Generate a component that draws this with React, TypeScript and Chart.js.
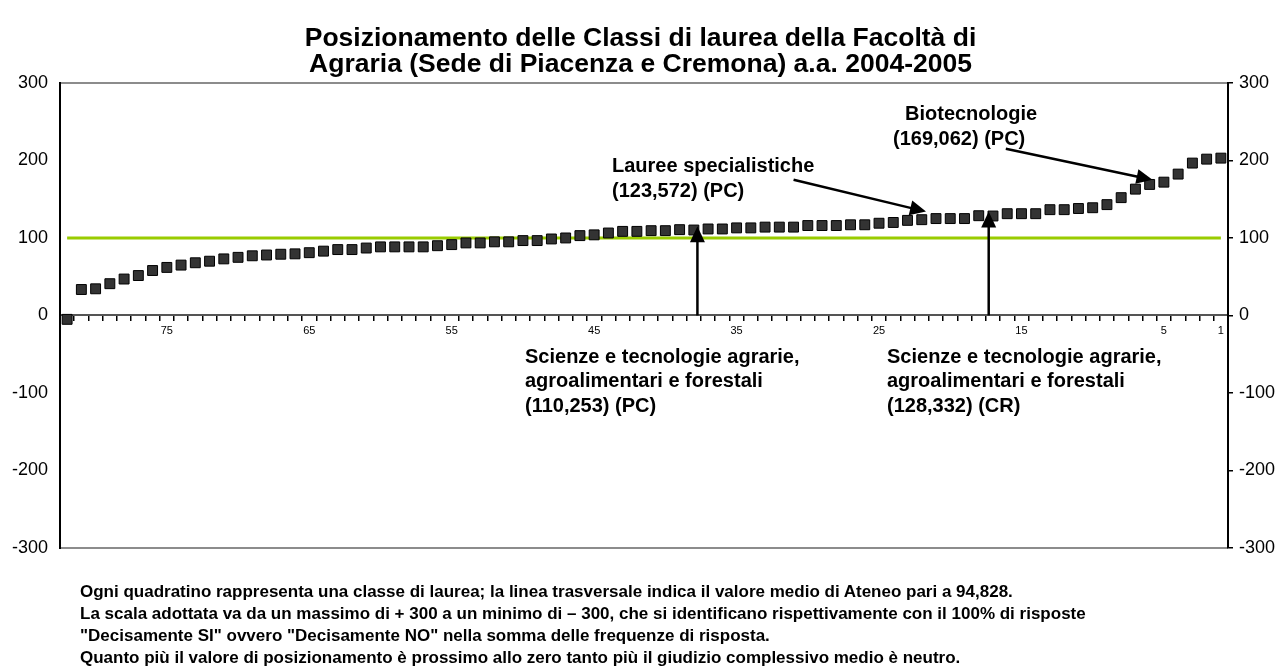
import React, { useEffect, useRef } from 'react';
import { Chart, registerables } from 'chart.js';

Chart.register(...registerables);

const FONT = "'Liberation Sans', Arial, sans-serif";

const titleLines = [
  'Posizionamento delle Classi di laurea della Facoltà di',
  'Agraria (Sede di Piacenza e Cremona) a.a. 2004-2005',
];

// Category ranks, from the last class (82) to the first (1)
const rankLabels = [
  '82', '81', '80', '79', '78', '77', '76', '75', '74', '73',
  '72', '71', '70', '69', '68', '67', '66', '65', '64', '63',
  '62', '61', '60', '59', '58', '57', '56', '55', '54', '53',
  '52', '51', '50', '49', '48', '47', '46', '45', '44', '43',
  '42', '41', '40', '39', '38', '37', '36', '35', '34', '33',
  '32', '31', '30', '29', '28', '27', '26', '25', '24', '23',
  '22', '21', '20', '19', '18', '17', '16', '15', '14', '13',
  '12', '11', '10', '9', '8', '7', '6', '5', '4', '3',
  '2', '1',
];

const shownRankLabels = ['75', '65', '55', '45', '35', '25', '15', '5', '1'];

// Positioning value of each degree class (one square each)
const positionValues = [
  -5, 33.5, 34.4, 41, 47, 51.5, 58, 62, 65, 68,
  70, 73, 75, 77, 78, 79, 79.5, 81, 83, 85,
  85, 87, 88.5, 88.5, 88.5, 88.5, 90, 91.4, 93.6, 93.6,
  95, 95, 96.6, 96.6, 98.7, 100, 103, 104, 106.4, 108.5,
  108.5, 109.4, 109.4, 110.7, 110.253, 111.6, 111.6, 113, 113, 114,
  114, 114, 116, 116, 116, 117, 117, 119, 120, 122.7,
  123.572, 125, 125, 125, 128.7, 128.332, 131.3, 131.3, 131.3, 136.5,
  136.5, 138, 139, 143, 152, 163, 169.062, 172, 182.4, 196.6,
  201.7, 203,
];

// Transverse reference line (as drawn)
const referenceLineValue = 100;
const referenceLineEnds = ['82', '1'];

const yMin = -300;
const yMax = 300;
const yStep = 100;

const footnoteLines = [
  'Ogni quadratino rappresenta una classe di laurea; la linea trasversale indica il valore medio di Ateneo pari a 94,828.',
  'La scala adottata va da un massimo di + 300 a un minimo di \u2013 300, che si identificano rispettivamente con il 100% di risposte',
  '"Decisamente SI" ovvero "Decisamente NO" nella somma delle frequenze di risposta.',
  'Quanto più il valore di posizionamento è prossimo allo zero tanto più il giudizio complessivo medio è neutro.',
];

// Annotation labels (canvas pixel positions, left aligned, vertically centred)
const annotationLabels = [
  { text: 'Biotecnologie', x: 905, y: 114 },
  { text: '(169,062) (PC)', x: 893, y: 139 },
  { text: 'Lauree specialistiche', x: 612, y: 166 },
  { text: '(123,572) (PC)', x: 612, y: 191 },
  { text: 'Scienze e tecnologie agrarie,', x: 525, y: 357 },
  { text: 'agroalimentari e forestali', x: 525, y: 381 },
  { text: '(110,253) (PC)', x: 525, y: 406 },
  { text: 'Scienze e tecnologie agrarie,', x: 887, y: 357 },
  { text: 'agroalimentari e forestali', x: 887, y: 381 },
  { text: '(128,332) (CR)', x: 887, y: 406 },
];

// Arrows in data coordinates: [category index, value]
const annotationArrows = [
  { from: [44.25, 0], to: [44.25, 115] },
  { from: [64.7, 0], to: [64.7, 134] },
  { from: [51.0, 175], to: [60.3, 134] },
  { from: [65.9, 215], to: [76.2, 175] },
];

const annotationPlugin = {
  id: 'annotationPlugin',
  afterDatasetsDraw(chart: any) {
    const { ctx, scales } = chart;
    const xs = scales.x;
    const ys = scales.y;
    ctx.save();
    ctx.strokeStyle = '#000';
    ctx.fillStyle = '#000';
    ctx.lineWidth = 2.5;
    const headLen = 16;
    const headHalf = 7.5;
    for (const a of annotationArrows) {
      const x1 = xs.getPixelForValue(a.from[0]);
      const y1 = ys.getPixelForValue(a.from[1]);
      const x2 = xs.getPixelForValue(a.to[0]);
      const y2 = ys.getPixelForValue(a.to[1]);
      const dx = x2 - x1;
      const dy = y2 - y1;
      const len = Math.hypot(dx, dy);
      const ux = dx / len;
      const uy = dy / len;
      const bx = x2 - ux * headLen;
      const by = y2 - uy * headLen;
      ctx.beginPath();
      ctx.moveTo(x1, y1);
      ctx.lineTo(bx + ux, by + uy);
      ctx.stroke();
      ctx.beginPath();
      ctx.moveTo(x2, y2);
      ctx.lineTo(bx - uy * headHalf, by + ux * headHalf);
      ctx.lineTo(bx + uy * headHalf, by - ux * headHalf);
      ctx.closePath();
      ctx.fill();
    }
    ctx.font = `bold 20px ${FONT}`;
    ctx.textAlign = 'left';
    ctx.textBaseline = 'middle';
    for (const t of annotationLabels) {
      ctx.fillText(t.text, t.x, t.y);
    }
    ctx.restore();
  },
};

export default function App() {
  const canvasRef = useRef<HTMLCanvasElement>(null);

  useEffect(() => {
    const canvas = canvasRef.current;
    if (!canvas) return;
    Chart.defaults.font.family = FONT;
    const chart = new Chart(canvas, {
      type: 'line',
      data: {
        labels: rankLabels,
        datasets: [
          {
            label: 'Classi di laurea',
            data: positionValues,
            showLine: false,
            pointStyle: 'rect',
            pointRadius: 7,
            pointHoverRadius: 7,
            pointBackgroundColor: '#333333',
            pointBorderColor: '#000000',
            pointBorderWidth: 1,
          },
          {
            label: 'Valore medio di Ateneo',
            data: [
              { x: referenceLineEnds[0], y: referenceLineValue },
              { x: referenceLineEnds[1], y: referenceLineValue },
            ],
            borderColor: '#99cc00',
            borderWidth: 3,
            pointRadius: 0,
            fill: false,
          },
        ],
      },
      options: {
        animation: false,
        responsive: false,
        devicePixelRatio: 1,
        layout: { padding: { left: 0, right: 0, top: 0, bottom: 123 } },
        plugins: {
          legend: { display: false },
          tooltip: { enabled: false },
          title: {
            display: true,
            text: titleLines,
            color: '#000',
            font: { family: FONT, size: 26.5, weight: 'bold', lineHeight: 0.98 },
            padding: { top: 26, bottom: 5 },
          },
        },
        scales: {
          x: {
            type: 'category',
            position: { y: 0 },
            offset: true,
            grid: {
              offset: true,
              drawOnChartArea: false,
              drawTicks: true,
              tickLength: 5,
              color: '#000',
              lineWidth: 1.5,
            },
            border: { display: true, color: '#555', width: 2 },
            ticks: {
              autoSkip: false,
              maxRotation: 0,
              padding: 4,
              color: '#000',
              font: { family: FONT, size: 11 },
              callback: (_v: any, i: number) => {
                const l = rankLabels[i];
                return shownRankLabels.includes(l) ? l : '';
              },
            },
          },
          y: {
            type: 'linear',
            position: 'left',
            min: yMin,
            max: yMax,
            ticks: { stepSize: yStep, padding: 12, color: '#000', font: { family: FONT, size: 18 } },
            grid: {
              drawTicks: false,
              lineWidth: 2,
              color: (c: any) => (c.tick && Math.abs(c.tick.value) === yMax ? '#8c8c8c' : 'rgba(0,0,0,0)'),
            },
            border: { display: true, color: '#000', width: 2 },
            afterFit: (s: any) => {
              s.width = 60;
            },
          },
          y2: {
            type: 'linear',
            position: 'right',
            min: yMin,
            max: yMax,
            ticks: { stepSize: yStep, padding: 6, color: '#000', font: { family: FONT, size: 18 } },
            grid: {
              drawOnChartArea: false,
              drawTicks: true,
              tickLength: 5,
              color: '#000',
              lineWidth: 1.5,
            },
            border: { display: true, color: '#000', width: 2 },
            afterFit: (s: any) => {
              s.width = 53;
            },
          },
        },
      },
      plugins: [annotationPlugin],
    } as any);
    return () => chart.destroy();
  }, []);

  return (
    <div style={{ position: 'absolute', left: 0, top: 0, width: 1281, height: 671, background: '#fff' }}>
      <canvas ref={canvasRef} width={1281} height={671} style={{ display: 'block', width: 1281, height: 671 }} />
      <div
        style={{
          position: 'absolute',
          left: 80,
          top: 581,
          fontFamily: FONT,
          fontWeight: 'bold',
          fontSize: 17,
          lineHeight: '22px',
          whiteSpace: 'pre',
          color: '#000',
        }}
      >
        {footnoteLines.map((l, i) => (
          <div key={i}>{l}</div>
        ))}
      </div>
    </div>
  );
}
